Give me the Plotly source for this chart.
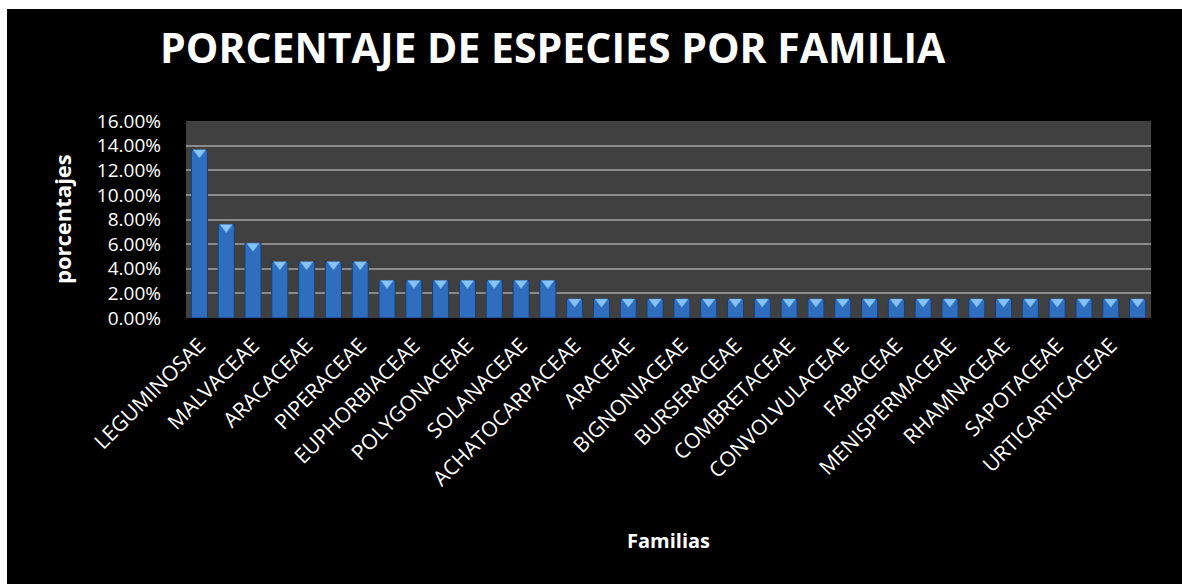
import plotly.graph_objects as go

# Familias (solo se rotula una de cada dos barras)
familias = [
    "LEGUMINOSAE", "", "MALVACEAE", "", "ARACACEAE", "", "PIPERACEAE", "",
    "EUPHORBIACEAE", "", "POLYGONACEAE", "", "SOLANACEAE", "", "ACHATOCARPACEAE", "",
    "ARACEAE", "", "BIGNONIACEAE", "", "BURSERACEAE", "", "COMBRETACEAE", "",
    "CONVOLVULACEAE", "", "FABACEAE", "", "MENISPERMACEAE", "", "RHAMNACEAE", "",
    "SAPOTACEAE", "", "URTICARTICACEAE", "",
]

# Porcentaje de especies por familia
porcentajes = [
    0.1364, 0.0758, 0.0606, 0.0455, 0.0455, 0.0455, 0.0455,
    0.0303, 0.0303, 0.0303, 0.0303, 0.0303, 0.0303, 0.0303,
    0.0152, 0.0152, 0.0152, 0.0152, 0.0152, 0.0152, 0.0152, 0.0152,
    0.0152, 0.0152, 0.0152, 0.0152, 0.0152, 0.0152, 0.0152, 0.0152,
    0.0152, 0.0152, 0.0152, 0.0152, 0.0152, 0.0152,
]

posiciones = list(range(1, len(porcentajes) + 1))
valores_eje = [i / 100 for i in range(0, 17, 2)]

FONT = "Open Sans"
W, H = 1182, 584
M_L, M_R, M_T, M_B = 186, 31, 121, 266
plot_w = W - M_L - M_R
plot_h = H - M_T - M_B

def px_x(px):
    return (px - M_L) / plot_w

def px_y(py):
    return (H - M_B - py) / plot_h

fig = go.Figure()

fig.add_trace(go.Bar(
    x=posiciones,
    y=porcentajes,
    width=0.6,
    marker=dict(color="#2F6EBF", line=dict(color="#173F73", width=1)),
    hoverinfo="skip",
))

# Cara superior clara de cada barra
escala = 0.16 / plot_h
fig.add_trace(go.Scatter(
    x=posiciones,
    y=[v - 2.5 * escala for v in porcentajes],
    mode="markers",
    marker=dict(symbol="triangle-down", size=11, color="#86C3F7",
                line=dict(color="#5FA3E6", width=0.5)),
    hoverinfo="skip",
))

fig.update_layout(
    width=W, height=H,
    margin=dict(l=M_L, r=M_R, t=M_T, b=M_B),
    paper_bgcolor="#000000",
    plot_bgcolor="#404040",
    showlegend=False,
    bargap=0.4,
    font=dict(family=FONT, color="#FFFFFF"),
    xaxis=dict(
        range=[0.5, len(porcentajes) + 0.5],
        tickvals=posiciones,
        ticktext=familias,
        tickangle=-45,
        tickfont=dict(size=21, color="#FFFFFF", family=FONT),
        showgrid=False,
        zeroline=False,
        showline=False,
        ticks="",
        ticklabelstandoff=10,
    ),
    yaxis=dict(
        range=[0, 0.16],
        tickvals=valores_eje,
        tickformat=".2%",
        tickfont=dict(size=19, color="#FFFFFF", family=FONT),
        showgrid=True,
        gridcolor="#8A8A8A",
        gridwidth=2,
        zeroline=False,
        showline=False,
        ticks="",
        ticklabelstandoff=24,
    ),
    shapes=[
        # franjas blancas del borde
        dict(type="rect", xref="paper", yref="paper",
             x0=px_x(-10), x1=px_x(7), y0=px_y(H + 10), y1=px_y(-10),
             fillcolor="#FFFFFF", line=dict(width=0), layer="above"),
        dict(type="rect", xref="paper", yref="paper",
             x0=px_x(-10), x1=px_x(W + 10), y0=px_y(9), y1=px_y(-10),
             fillcolor="#FFFFFF", line=dict(width=0), layer="above"),
    ],
    annotations=[
        dict(text="<b>PORCENTAJE DE ESPECIES POR FAMILIA</b>",
             xref="paper", yref="paper", x=px_x(553), y=px_y(47),
             xanchor="center", yanchor="middle", showarrow=False,
             font=dict(size=41, color="#FFFFFF", family=FONT)),
        dict(text="<b>porcentajes</b>",
             xref="paper", yref="paper", x=px_x(62), y=px_y(219),
             xanchor="center", yanchor="middle", textangle=-90, showarrow=False,
             font=dict(size=22, color="#FFFFFF", family=FONT)),
        dict(text="<b>Familias</b>",
             xref="paper", yref="paper", x=px_x(668), y=px_y(540),
             xanchor="center", yanchor="middle", showarrow=False,
             font=dict(size=20, color="#FFFFFF", family=FONT)),
    ],
)

fig.write_html("out.html")
